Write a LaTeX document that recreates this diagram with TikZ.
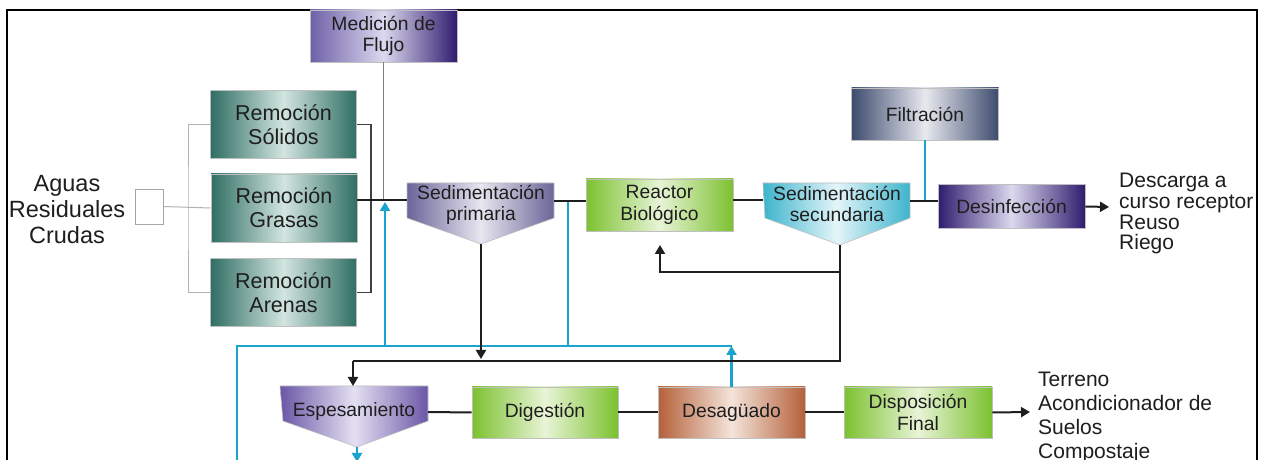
\documentclass[tikz,border=0pt]{standalone}
\usepackage{fontspec}
\setmainfont{Liberation Sans}
\usetikzlibrary{arrows.meta}
\definecolor{ink}{HTML}{1E1E1E}
\definecolor{medD}{HTML}{2E1C6E}
\definecolor{medL}{HTML}{6E60A8}
\definecolor{medC}{HTML}{DCD8EE}
\definecolor{remD}{HTML}{2F6E63}
\definecolor{remC}{HTML}{D2E5E0}
\definecolor{spD}{HTML}{6A6598}
\definecolor{spC}{HTML}{E8E6F0}
\definecolor{grD}{HTML}{7CC12F}
\definecolor{grC}{HTML}{E8F4D6}
\definecolor{ssD}{HTML}{3DB4CC}
\definecolor{ssC}{HTML}{E4F5F9}
\definecolor{fiD}{HTML}{3D4B6E}
\definecolor{fiC}{HTML}{E8E9EF}
\definecolor{esD}{HTML}{6A56A6}
\definecolor{esC}{HTML}{E4E0F2}
\definecolor{dgD}{HTML}{B5603A}
\definecolor{dgC}{HTML}{F4E4DA}
\definecolor{blu}{HTML}{1AA3CC}
\tikzset{
  box/.style={minimum width=147bp, minimum height=52bp, inner sep=0pt, align=center,
    text=ink, draw=black!25, line width=0.6bp, font=\fontsize{19.3bp}{21.5bp}\selectfont},
  remfont/.style={font=\fontsize{21.5bp}{24bp}\selectfont},
  grad/.style 2 args={left color=#1, right color=#1, middle color=#2},
  ptext/.style={inner sep=0pt, align=center, text=ink, font=\fontsize{19.3bp}{21.5bp}\selectfont},
  pent/.style={draw=black!25, line width=0.6bp},
  blk/.style={draw=ink, line width=2bp},
  bline/.style={draw=blu, line width=2.4bp},
  dline/.style={draw=black!75, line width=1.3bp},
  gline/.style={draw=black!30, line width=1bp},
  mline/.style={draw=black!50, line width=1.2bp},
  tip/.style={-{Triangle[length=9bp,width=10bp]}},
  lbl/.style={inner sep=0pt, text=ink},
}
\begin{document}
\begin{tikzpicture}[x=1bp,y=-1bp]
\useasboundingbox (0,0) rectangle (1273,460);
\clip (0,0) rectangle (1273,460);
\fill[white] (0,0) rectangle (1273,460);
% frame
\draw[line width=2bp] (7,470) -- (7,10) -- (1257,10) -- (1257,470);

% boxes
\node[box, left color=medL, right color=medD, middle color=medC] (med) at (383.5,36) {Medición de\\Flujo};
\node[box, remfont, minimum width=146bp, minimum height=68bp, grad={remD}{remC}] (rs) at (283.5,124.5) {Remoción\\Sólidos};
\node[box, remfont, minimum width=146bp, minimum height=68bp, grad={remD}{remC}] (rg) at (284,208) {Remoción\\Grasas};
\node[box, remfont, minimum width=146bp, minimum height=68bp, grad={remD}{remC}] (ra) at (283.5,292.5) {Remoción\\Arenas};
\node[draw=black!35, line width=0.8bp, minimum width=28bp, minimum height=35bp, inner sep=0pt] (inb) at (149,206.5) {};
\node[lbl, anchor=north, align=center, font=\fontsize{23.5bp}{26bp}\selectfont] (agu) at (67,175) {Aguas\\Residuales\\Crudas};

\node[box, grad={grD}{grC}] (reac) at (659.5,205) {Reactor\\Biológico};
\node[box, grad={fiD}{fiC}] (fil) at (925,114) {Filtración};
\node[box, minimum height=44bp, grad={medD}{medC}] (desi) at (1011.5,206.5) {Desinfección};
\node[box, minimum height=51bp, minimum width=146bp, grad={grD}{grC}] (dig) at (545,412.5) {Digestión};
\node[box, minimum height=51bp, grad={dgD}{dgC}] (desg) at (731.5,412.5) {Desagüado};
\node[box, minimum height=51bp, minimum width=148bp, grad={grD}{grC}] (disp) at (918,412.5) {Disposición\\Final};

% pentagons
\path[pent, grad={spD}{spC}] (407,183) -- (554,183) -- (554,218) -- (481,244) -- (407,218) -- cycle;
\node[ptext] (sp) at (481,205) {Sedimentación\\primaria};
\path[pent, grad={ssD}{ssC}] (763,183) -- (910,183) -- (910,218) -- (840,245) -- (765,218) -- cycle;
\node[ptext] (ss) at (837,204) {Sedimentación\\secundaria};
\path[pent, grad={esD}{esC}] (280,386) -- (428,386) -- (428,421) -- (357,447) -- (283,421) -- cycle;
\node[ptext] (esp) at (354,412) {Espesamiento};

% outputs text
\node[lbl, anchor=north west, align=left, font=\fontsize{21bp}{20.7bp}\selectfont] (outA) at (1119,173) {Descarga a\\curso receptor\\Reuso\\Riego};
\node[lbl, anchor=north west, align=left, font=\fontsize{21bp}{24bp}\selectfont] (outB) at (1038,372) {Terreno\\Acondicionador de\\Suelos\\Compostaje};

% coordinates
\coordinate (spW) at (407,200);
\coordinate (spE) at (554,201);
\coordinate (spT) at (481,244);
\coordinate (ssW) at (763,200);
\coordinate (ssE) at (910,201);
\coordinate (ssT) at (840,245);
\coordinate (espN) at (353,386);
\coordinate (espE) at (428,412);
\coordinate (espT) at (357,447);
\coordinate (espOut) at (357,462);
\coordinate (split) at (188,208);
\coordinate (obr) at (371,208);
\coordinate (busL) at (353,361);
\coordinate (busR) at (840,361);
\coordinate (busP) at (481,359);
\coordinate (ret) at (840,272);
\coordinate (retEnd) at (660,245);
\coordinate (bL) at (237,346);
\coordinate (bBot) at (237,470);
\coordinate (b1) at (385,346);
\coordinate (b1t) at (385,202);
\coordinate (b2) at (568,346);
\coordinate (b2t) at (568,201);
\coordinate (outAp) at (1109,207);
\coordinate (outBp) at (1030,412);

% gray inlet lines
\draw[gline] (inb.east) -- (rg.west);
\draw[gline] (rs.west) -| (split) |- (ra.west);
% outlet bracket
\draw[dline] (rs.east) -| (obr) |- (ra.east);
% flow measurement
\draw[mline] (med.south) -- (med.south |- spW);

% blue lines
\draw[bline] (fil.south) -- (fil.south |- ssE);
\draw[bline, tip] (desg.north) -- (desg.north |- bL);
\draw[bline] (desg.north |- bL) -- (bL) -- (bBot);
\draw[bline, tip] (b1) -- (b1t);
\draw[bline] (b2) -- (b2t);
\draw[bline, tip] (espT) -- (espOut);

% main line
\draw[blk] (rg.east |- spW) -- (spW);
\draw[blk] (spE) -- (reac.west |- spE);
\draw[blk] (reac.east |- ssW) -- (ssW);
\draw[blk] (ssE) -- (desi.west |- ssE);
\draw[blk, tip] (desi.east) -- (outAp);
% sludge lines
\draw[blk, tip] (spT) -- (busP);
\draw[blk] (ssT) -- (busR) -- (busL);
\draw[blk, tip] (busL) -- (espN);
\draw[blk, tip] (ret) -| (retEnd);
% bottom chain
\draw[blk] (espE) -- (dig.west);
\draw[blk] (dig.east) -- (desg.west);
\draw[blk] (desg.east) -- (disp.west);
\draw[blk, tip] (disp.east) -- (outBp);
\end{tikzpicture}
\end{document}
